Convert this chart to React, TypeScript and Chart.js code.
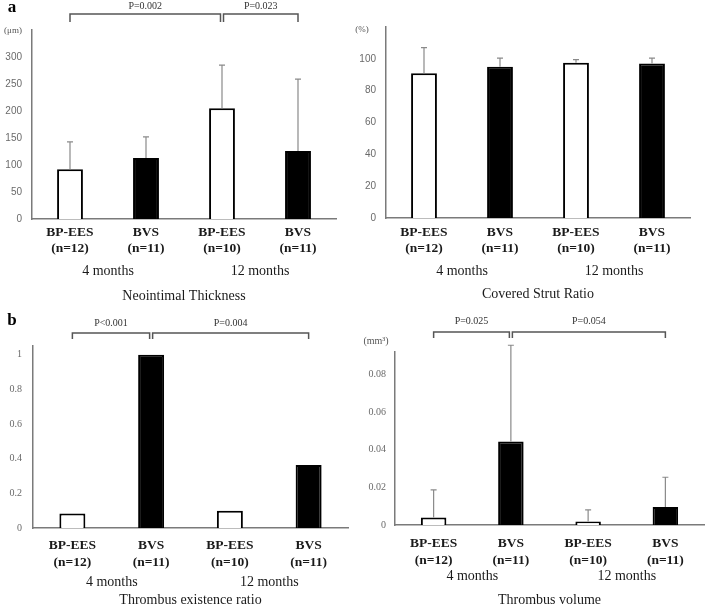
import React, { useEffect, useRef } from 'react';
import { Chart, registerables } from 'chart.js';

Chart.register(...registerables);

// ---------- data ----------
const categories = [
  ['BP-EES', '(n=12)'],
  ['BVS', '(n=11)'],
  ['BP-EES', '(n=10)'],
  ['BVS', '(n=11)'],
];
const periods = ['4 months', '12 months'];
const barFill = ['#ffffff', '#000000', '#ffffff', '#000000'];

const thicknessMean = [92, 113, 205, 126];
const thicknessUpper = [143, 152, 285, 259];
const thicknessTicks = [0, 50, 100, 150, 200, 250, 300];
const thicknessP = [
  { from: 0, to: 2, text: 'P=0.002' },
  { from: 2, to: 3, text: 'P=0.023' },
];

const strutMean = [91, 95, 97.5, 97];
const strutUpper = [107, 100.5, 99.5, 100.5];
const strutTicks = [0, 20, 40, 60, 80, 100];

const existenceRatio = [0.083, 1.0, 0.1, 0.364];
const existenceTicks = [0, 0.2, 0.4, 0.6, 0.8, 1];
const existenceP = [
  { from: 0, to: 1, text: 'P<0.001' },
  { from: 1, to: 3, text: 'P=0.004' },
];

const volumeMean = [0.004, 0.0444, 0.0018, 0.0096];
const volumeUpper = [0.0187, 0.0956, 0.008, 0.0254];
const volumeTicks = [0, 0.02, 0.04, 0.06, 0.08];
const volumeP = [
  { from: 0, to: 1, text: 'P=0.025' },
  { from: 1, to: 3, text: 'P=0.054' },
];

// ---------- panel layout ----------
const SERIF = '"Liberation Serif", "Times New Roman", serif';
const SANS = '"Liberation Sans", Arial, sans-serif';

type Bracket = { from: number; to: number; text: string };
type PanelCfg = {
  left: number; top: number;
  means: number[]; upper?: number[]; ticks: number[]; max: number;
  title: string;
  padTop: number; padRight: number; yWidth: number; xHeight: number;
  labelPad: number; lineH: string; monthsY: number; titleY: number;
  tickPad: number; tickFamily: string; barPct: number;
  brackets?: Bracket[]; bracketY?: number; legY?: number; textY?: number;
  unit?: string; unitX?: number; unitY?: number; unitSize?: number;
  letter?: string; letterX?: number; letterY?: number;
};

const panels: PanelCfg[] = [
  {
    left: 0, top: 0, means: thicknessMean, upper: thicknessUpper, ticks: thicknessTicks, max: 350,
    title: 'Neointimal Thickness',
    padTop: 30, padRight: 18, yWidth: 32, xHeight: 86,
    labelPad: 6, lineH: '16px', monthsY: 271, titleY: 296,
    tickPad: 10, tickFamily: SANS, barPct: 0.34,
    brackets: thicknessP, bracketY: 14, legY: 22, textY: 6,
    unit: '(μm)', unitX: 13, unitY: 31, unitSize: 9,
    letter: 'a', letterX: 12, letterY: 8,
  },
  {
    left: 354, top: 0, means: strutMean, upper: strutUpper, ticks: strutTicks, max: 120,
    title: 'Covered Strut Ratio',
    padTop: 27, padRight: 18, yWidth: 32, xHeight: 87,
    labelPad: 7, lineH: '16px', monthsY: 271, titleY: 294,
    tickPad: 10, tickFamily: SANS, barPct: 0.34,
    unit: '(%)', unitX: 8, unitY: 30, unitSize: 9,
  },
  {
    left: 0, top: 305, means: existenceRatio, ticks: existenceTicks, max: 1.05,
    title: 'Thrombus existence ratio',
    padTop: 41, padRight: 6, yWidth: 33, xHeight: 82,
    labelPad: 9, lineH: '17px', monthsY: 277, titleY: 295,
    tickPad: 11, tickFamily: SERIF, barPct: 0.33,
    brackets: existenceP, bracketY: 28, legY: 34, textY: 18,
    letter: 'b', letterX: 12, letterY: 16,
  },
  {
    left: 354, top: 305, means: volumeMean, upper: volumeUpper, ticks: volumeTicks, max: 0.092,
    title: 'Thrombus volume',
    padTop: 47, padRight: 4, yWidth: 41, xHeight: 85,
    labelPad: 10, lineH: '17px', monthsY: 271, titleY: 295,
    tickPad: 9, tickFamily: SERIF, barPct: 0.33,
    brackets: volumeP, bracketY: 27, legY: 33, textY: 16,
    unit: '(mm³)', unitX: 22, unitY: 36, unitSize: 10,
  },
];

function makeAnnotations(p: PanelCfg) {
  return {
    id: 'annotations',
    afterDatasetsDraw(chart: any) {
      const ctx = chart.ctx as CanvasRenderingContext2D;
      const meta = chart.getDatasetMeta(0);
      const yScale = chart.scales.y;
      const area = chart.chartArea;
      const xs: number[] = meta.data.map((b: any) => b.x);
      const tops: number[] = meta.data.map((b: any) => b.y);
      ctx.save();

      // error bars (upper only)
      if (p.upper) {
        ctx.strokeStyle = '#8a8a8a';
        ctx.lineWidth = 1.2;
        p.upper.forEach((u, i) => {
          const yt = yScale.getPixelForValue(u);
          ctx.beginPath();
          ctx.moveTo(xs[i], tops[i]);
          ctx.lineTo(xs[i], yt);
          ctx.moveTo(xs[i] - 3, yt);
          ctx.lineTo(xs[i] + 3, yt);
          ctx.stroke();
        });
      }

      // significance brackets
      if (p.brackets) {
        const starts = new Set(p.brackets.map((b) => b.from));
        const ends = new Set(p.brackets.map((b) => b.to));
        ctx.strokeStyle = '#555';
        ctx.lineWidth = 1.5;
        ctx.fillStyle = '#333';
        ctx.font = `10px ${SERIF}`;
        ctx.textAlign = 'center';
        ctx.textBaseline = 'middle';
        p.brackets.forEach((b) => {
          const x1 = xs[b.from] + (ends.has(b.from) ? 1.5 : 0);
          const x2 = xs[b.to] - (starts.has(b.to) ? 1.5 : 0);
          ctx.beginPath();
          ctx.moveTo(x1, p.legY!);
          ctx.lineTo(x1, p.bracketY!);
          ctx.lineTo(x2, p.bracketY!);
          ctx.lineTo(x2, p.legY!);
          ctx.stroke();
          ctx.fillText(b.text, (x1 + x2) / 2, p.textY!);
        });
      }

      // period labels and title
      ctx.fillStyle = '#1a1a1a';
      ctx.font = `14px ${SERIF}`;
      ctx.textAlign = 'center';
      ctx.textBaseline = 'middle';
      periods.forEach((t, k) => {
        const cx = (xs[2 * k] + xs[2 * k + 1]) / 2;
        ctx.fillText(t, cx, p.monthsY);
      });
      ctx.fillText(p.title, (area.left + area.right) / 2, p.titleY);

      // unit label
      if (p.unit) {
        ctx.fillStyle = '#555';
        ctx.font = `${p.unitSize}px ${SERIF}`;
        ctx.fillText(p.unit, p.unitX!, p.unitY!);
      }

      // panel letter
      if (p.letter) {
        ctx.fillStyle = '#000';
        ctx.font = `bold 17px ${SERIF}`;
        ctx.fillText(p.letter, p.letterX!, p.letterY!);
      }
      ctx.restore();
    },
  };
}

function Panel({ p }: { p: PanelCfg }) {
  const ref = useRef<HTMLCanvasElement>(null);
  useEffect(() => {
    const chart = new Chart(ref.current as HTMLCanvasElement, {
      type: 'bar',
      data: {
        labels: categories,
        datasets: [
          {
            data: p.means,
            backgroundColor: barFill,
            borderColor: '#000000',
            borderWidth: 2,
            barPercentage: p.barPct,
            categoryPercentage: 1,
          },
        ],
      },
      options: {
        responsive: false,
        animation: false,
        devicePixelRatio: 1,
        layout: { padding: { top: p.padTop, right: p.padRight, left: 0, bottom: 0 } },
        plugins: {
          legend: { display: false },
          tooltip: { enabled: false },
          title: { display: false },
        },
        scales: {
          x: {
            grid: { display: false, drawTicks: false },
            border: { display: true, color: '#7a7a7a', width: 1.5 },
            ticks: {
              color: '#1a1a1a',
              font: { family: SERIF, size: 13.5, weight: 'bold', lineHeight: p.lineH },
              padding: p.labelPad,
              autoSkip: false,
              maxRotation: 0,
              minRotation: 0,
            },
            afterFit: (s: any) => {
              s.height = p.xHeight;
            },
          },
          y: {
            min: 0,
            max: p.max,
            grid: { display: false, drawTicks: false },
            border: { display: true, color: '#7a7a7a', width: 1.5 },
            ticks: {
              color: '#6a6a6a',
              font: { family: p.tickFamily, size: 10 },
              padding: p.tickPad,
              callback: (v: any) => String(v),
            },
            afterBuildTicks: (s: any) => {
              s.ticks = p.ticks.map((v) => ({ value: v }));
            },
            afterFit: (s: any) => {
              s.width = p.yWidth;
            },
          },
        },
      } as any,
      plugins: [makeAnnotations(p)],
    });
    return () => chart.destroy();
  }, []);
  return (
    <canvas
      ref={ref}
      width={354}
      height={305}
      style={{ position: 'absolute', left: p.left, top: p.top, width: 354, height: 305 }}
    />
  );
}

export default function App() {
  return (
    <div style={{ position: 'absolute', left: 0, top: 0, width: 708, height: 610, background: '#ffffff' }}>
      {panels.map((p, i) => (
        <Panel key={i} p={p} />
      ))}
    </div>
  );
}
